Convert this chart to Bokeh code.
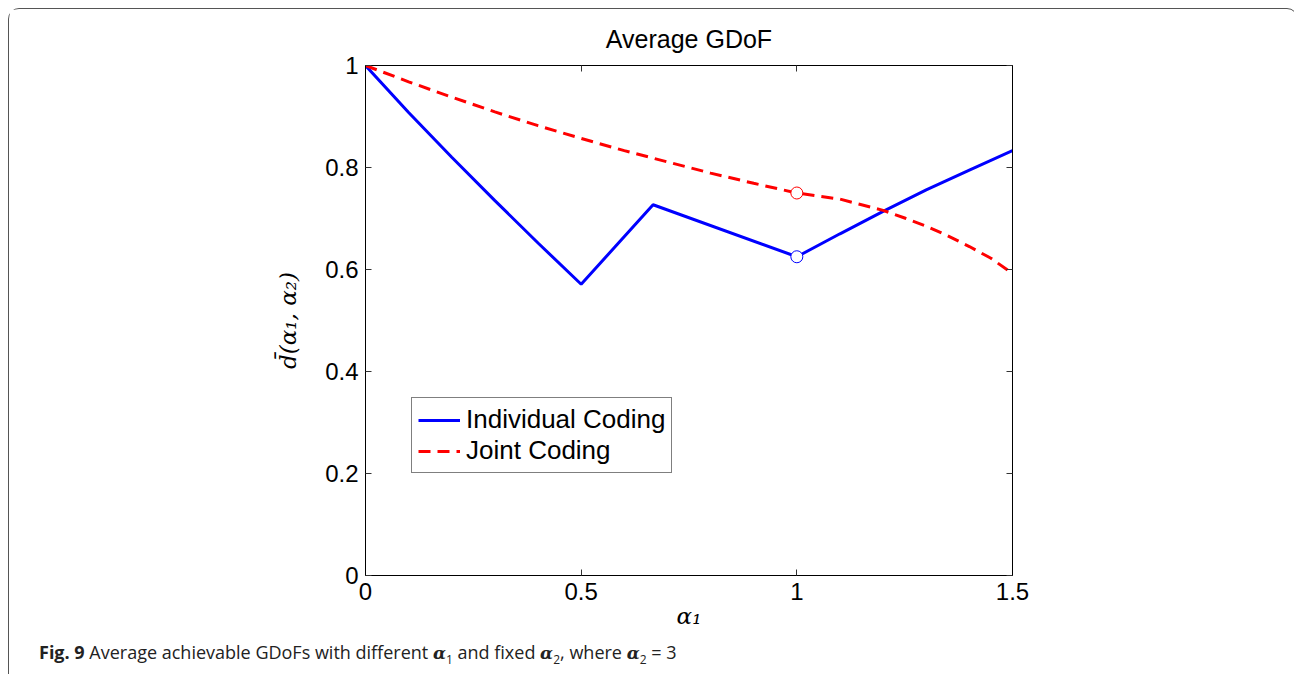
from bokeh.plotting import figure
from bokeh.layouts import column
from bokeh.models import (Range1d, LinearAxis, FixedTicker, Legend, LegendItem,
                          Div, Title)
from bokeh.embed import file_html
from bokeh.resources import INLINE

# ---- data -------------------------------------------------------------
alpha1_ind = [0.0, 0.1, 0.2, 0.3, 0.4, 0.5, 0.6667, 1.0, 1.1, 1.2, 1.3, 1.4, 1.5]
gdof_ind = [1.0, 0.908, 0.820, 0.735, 0.652, 0.571, 0.727, 0.625, 0.670, 0.714,
            0.756, 0.795, 0.833]

alpha1_joint = [0.0, 0.1, 0.2, 0.3, 0.4, 0.5, 0.6, 0.7, 0.8, 0.9, 1.0,
                1.05, 1.1, 1.15, 1.2, 1.25, 1.3, 1.35, 1.4, 1.45, 1.5]
gdof_joint = [1.0, 0.968, 0.938, 0.909, 0.882, 0.857, 0.833, 0.811, 0.789, 0.769, 0.750,
              0.744, 0.738, 0.727, 0.716, 0.701, 0.685, 0.666, 0.645, 0.622, 0.592]

mark_alpha1 = [1.0]
mark_ind = [0.625]
mark_joint = [0.75]

x_ticks = [0, 0.5, 1, 1.5]
x_tick_labels = ["0", "0.5", "1", "1.5"]
y_ticks = [0, 0.2, 0.4, 0.6, 0.8, 1]
y_tick_labels = ["0", "0.2", "0.4", "0.6", "0.8", "1"]

SANS = "Liberation Sans"
SERIF = "DejaVu Serif"

# page box: 1px border starting 8px from the page corner
BOX = 8
BORDER = 1
INNER_L = BOX + BORDER                       # left/top of the content
FIG_W = 1294 - 2 * INNER_L + 2               # right border lands at x = 1292
FL, FR, FT, FB = 365, 1012, 65, 575          # plot frame edges in page pixels
FIG_H = 635 - INNER_L

p = figure(width=FIG_W, height=FIG_H, x_range=Range1d(0, 1.5), y_range=Range1d(0, 1),
           output_backend="svg", toolbar_location=None,
           min_border_left=FL - INNER_L, min_border_right=INNER_L + FIG_W - FR,
           min_border_top=FT - INNER_L, min_border_bottom=INNER_L + FIG_H - FB)
p.grid.visible = False
p.outline_line_color = "black"
p.outline_line_width = 1
p.background_fill_color = "white"
p.border_fill_color = "white"

p.title = Title(text="Average GDoF", align="center", text_font=SANS,
                text_font_size="25px", text_font_style="normal",
                text_color="black", standoff=25)


def style_axis(ax, ticks, labels, show_labels=True):
    ax.ticker = FixedTicker(ticks=ticks)
    ax.minor_tick_line_color = None
    ax.major_tick_in = 6
    ax.major_tick_out = 0
    ax.major_tick_line_color = "#333333"
    ax.axis_line_color = "black"
    if show_labels:
        ax.major_label_overrides = {t: s for t, s in zip(ticks, labels)}
        ax.major_label_text_font = SANS
        ax.major_label_text_font_size = "24px"
        ax.major_label_text_color = "black"
    else:
        ax.major_label_text_color = None


style_axis(p.xaxis[0], x_ticks, x_tick_labels)
style_axis(p.yaxis[0], y_ticks, y_tick_labels)
p.xaxis[0].major_label_standoff = 7
p.yaxis[0].major_label_standoff = 7

p.xaxis[0].axis_label = "α₁"
p.xaxis[0].axis_label_text_font = SERIF
p.xaxis[0].axis_label_text_font_style = "italic"
p.xaxis[0].axis_label_text_font_size = "23px"
p.xaxis[0].axis_label_text_color = "black"
p.xaxis[0].axis_label_standoff = 0

p.yaxis[0].axis_label = "d\u0304(α₁, α₂)"
p.yaxis[0].axis_label_text_font = SERIF
p.yaxis[0].axis_label_text_font_style = "italic"
p.yaxis[0].axis_label_text_font_size = "23px"
p.yaxis[0].axis_label_text_color = "black"
p.yaxis[0].axis_label_standoff = 21

top_ax = LinearAxis()
style_axis(top_ax, x_ticks, x_tick_labels, show_labels=False)
p.add_layout(top_ax, "above")
right_ax = LinearAxis()
style_axis(right_ax, y_ticks, y_tick_labels, show_labels=False)
p.add_layout(right_ax, "right")

# ---- curves -----------------------------------------------------------
r_ind = p.line(alpha1_ind, gdof_ind, line_color="#0000ff", line_width=3)
r_joint = p.line(alpha1_joint, gdof_joint, line_color="#ff0000", line_width=3,
                 line_dash="12 7")
p.scatter(mark_alpha1, mark_joint, marker="circle", size=12,
          fill_color="white", line_color="#ff0000", line_width=1)
p.scatter(mark_alpha1, mark_ind, marker="circle", size=12,
          fill_color="white", line_color="#0000ff", line_width=1)

legend = Legend(items=[LegendItem(label="Individual Coding", renderers=[r_ind]),
                       LegendItem(label="Joint Coding", renderers=[r_joint])],
                location=(46, 102))
legend.border_line_color = "black"
legend.border_line_width = 1
legend.background_fill_color = "white"
legend.background_fill_alpha = 1
legend.label_text_font = SANS
legend.label_text_font_size = "26px"
legend.label_text_color = "black"
legend.glyph_width = 42
legend.glyph_height = 20
legend.label_height = 20
legend.label_standoff = 6
legend.spacing = 0
legend.padding = 6
legend.margin = 0
p.add_layout(legend)

# ---- caption ------------------------------------------------------------
alpha = ("<b><i style=\"font-family:'DejaVu Serif';font-size:17px\">α</i></b>"
         "<sub style='font-size:12px'>{}</sub>")
caption_html = ("<div style=\"padding:1px 0 0 25px;font-family:'Open Sans';"
                "font-size:18px;line-height:22px;color:#222222;white-space:nowrap\">"
                "<b>Fig. 9</b> Average achievable GDoFs with different "
                + alpha.format(1) + " and fixed " + alpha.format(2)
                + ", where " + alpha.format(2) + " = 3</div>")
caption = Div(text=caption_html, width=FIG_W, height=70)

page = column(p, caption, margin=(BOX, 0, 0, BOX), spacing=0,
              styles={"border": f"{BORDER}px solid #555555",
                      "border-radius": "11px", "background": "white",
                      "box-sizing": "content-box"})

open("out.html", "w").write(file_html(page, INLINE))
